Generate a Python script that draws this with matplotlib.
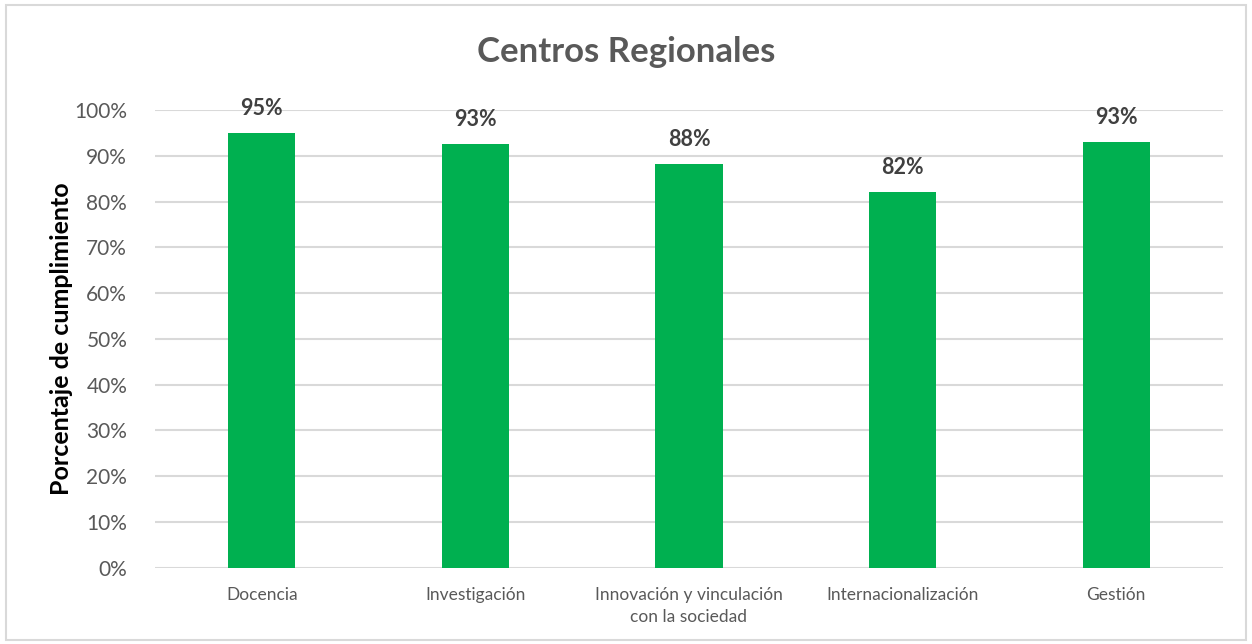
import matplotlib.pyplot as plt
from matplotlib.patches import Rectangle
from matplotlib.ticker import PercentFormatter

plt.rcParams['font.family'] = ['Lato', 'DejaVu Sans']

categories = ['Docencia', 'Investigación', 'Innovación y vinculación\ncon la sociedad',
              'Internacionalización', 'Gestión']
values = [95, 92.5, 88.2, 82.1, 93]
labels = ['95%', '93%', '88%', '82%', '93%']

fig = plt.figure(figsize=(12.52, 6.44), dpi=100)
ax = fig.add_axes([0.1238, 0.1185, 0.8530, 0.7107])

x = range(len(categories))
bars = ax.bar(x, values, width=0.314, color='#00b050', zorder=3)

for b, lab in zip(bars, labels):
    ax.annotate(lab, (b.get_x() + b.get_width() / 2, b.get_height()),
                xytext=(0, 10), textcoords='offset points', ha='center', va='bottom',
                fontsize=15.5, fontweight='bold', color='#404040')

ax.set_xlim(-0.5, len(categories) - 0.5)
ax.set_ylim(0, 100)
ax.set_yticks(range(0, 101, 10))
ax.yaxis.set_major_formatter(PercentFormatter(decimals=0))
ax.set_xticks(list(x))
ax.set_xticklabels(categories, fontsize=12.5, color='#595959', linespacing=1.45)
ax.tick_params(axis='y', labelsize=15, labelcolor='#595959', length=0, pad=20)
ax.tick_params(axis='x', length=0, pad=14)
ax.grid(axis='y', color='#d9d9d9', linewidth=1.5, zorder=0)
for s in ax.spines.values():
    s.set_visible(False)

ax.set_ylabel('Porcentaje de cumplimiento', fontsize=18, fontweight='bold',
              color='black', labelpad=1)
fig.text(0.5, 0.92, 'Centros Regionales', ha='center', va='center',
         fontsize=25, fontweight='bold', color='#595959')

fig.patches.append(Rectangle((6 / 1252, 4 / 644), 1240 / 1252, 635 / 644,
                             transform=fig.transFigure, fill=False,
                             edgecolor='#d9d9d9', linewidth=1.5))

plt.savefig('out.png', dpi=100)
